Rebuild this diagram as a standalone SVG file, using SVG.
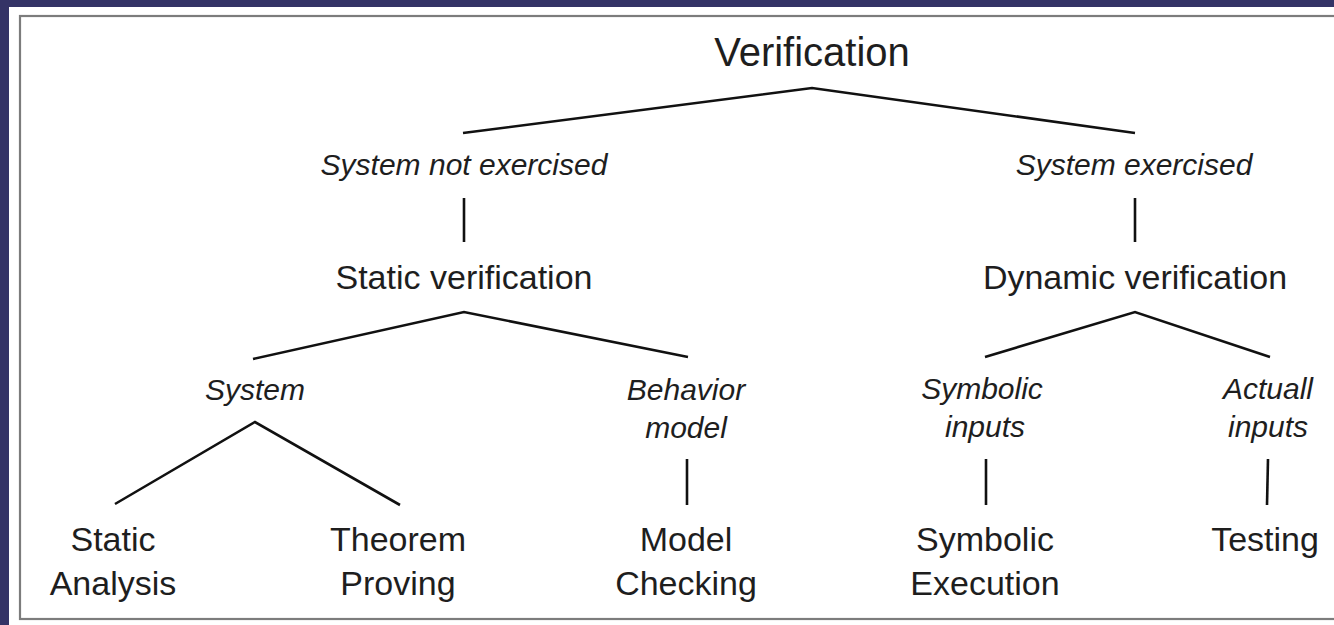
<svg xmlns="http://www.w3.org/2000/svg" width="1334" height="625" viewBox="0 0 1334 625">
  <style>
    .lbl { font-family: "Liberation Sans", Arial, sans-serif; fill: #1e1e1e; text-anchor: middle; }
    .title { font-size: 40px; }
    .main { font-size: 34px; }
    .cond { font-size: 30px; font-style: italic; }
    .edge { fill: none; stroke: #111; stroke-width: 2.6; stroke-linejoin: miter; stroke-linecap: butt; }
  </style>

  <!-- frame -->
  <rect x="0" y="0" width="1334" height="625" fill="#343366"/>
  <rect x="9" y="7" width="1325" height="618" fill="#ffffff"/>
  <rect x="20" y="16" width="1330" height="603" fill="none" stroke="#7c7c7c" stroke-width="2.2"/>

  <!-- connectors -->
  <g id="connectors">
    <polyline class="edge" points="463,133 812,88 1135,133"/>
    <line class="edge" x1="464" y1="198" x2="464" y2="242"/>
    <line class="edge" x1="1135" y1="198" x2="1135" y2="242"/>
    <polyline class="edge" points="253,359 464,312 688,357"/>
    <polyline class="edge" points="985,357 1135,312 1270,357"/>
    <polyline class="edge" points="115,504 255,422 400,505"/>
    <line class="edge" x1="687" y1="459" x2="687" y2="505"/>
    <line class="edge" x1="986" y1="459" x2="986" y2="505"/>
    <line class="edge" x1="1268" y1="459" x2="1267" y2="505"/>
  </g>

  <g id="verification"><text class="lbl title" x="812" y="66">Verification</text></g>

  <g id="not-exercised"><text class="lbl cond" x="464" y="175">System not exercised</text></g>
  <g id="exercised"><text class="lbl cond" x="1134" y="175">System exercised</text></g>

  <g id="static-verification"><text class="lbl main" x="464" y="289">Static verification</text></g>
  <g id="dynamic-verification"><text class="lbl main" x="1135" y="289">Dynamic verification</text></g>

  <g id="system"><text class="lbl cond" x="255" y="400">System</text></g>
  <g id="behavior-model">
    <text class="lbl cond" x="686" y="400">Behavior</text>
    <text class="lbl cond" x="686" y="438">model</text>
  </g>
  <g id="symbolic-inputs">
    <text class="lbl cond" x="982" y="399">Symbolic</text>
    <text class="lbl cond" x="985" y="437">inputs</text>
  </g>
  <g id="actual-inputs">
    <text class="lbl cond" x="1268" y="399">Actuall</text>
    <text class="lbl cond" x="1268" y="437">inputs</text>
  </g>

  <g id="static-analysis">
    <text class="lbl main" x="113" y="551">Static</text>
    <text class="lbl main" x="113" y="595">Analysis</text>
  </g>
  <g id="theorem-proving">
    <text class="lbl main" x="398" y="551">Theorem</text>
    <text class="lbl main" x="398" y="595">Proving</text>
  </g>
  <g id="model-checking">
    <text class="lbl main" x="686" y="551">Model</text>
    <text class="lbl main" x="686" y="595">Checking</text>
  </g>
  <g id="symbolic-execution">
    <text class="lbl main" x="985" y="551">Symbolic</text>
    <text class="lbl main" x="985" y="595">Execution</text>
  </g>
  <g id="testing"><text class="lbl main" x="1265" y="551">Testing</text></g>
</svg>
